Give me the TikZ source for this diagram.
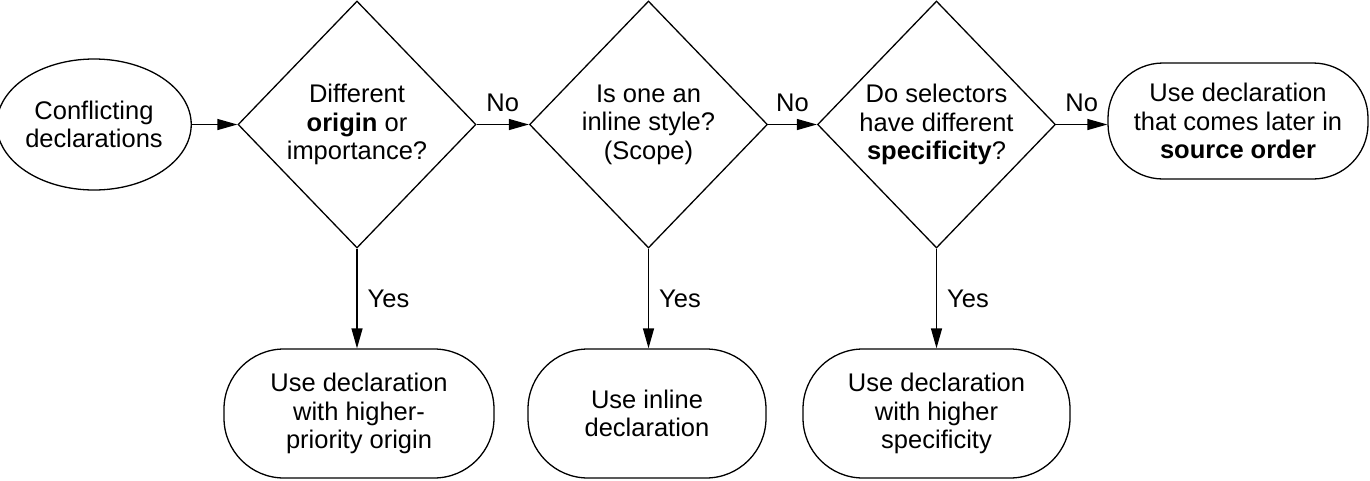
\documentclass[tikz,border=0pt]{standalone}
\usepackage{fontspec}
\setmainfont{Liberation Sans}
\usetikzlibrary{shapes.geometric,arrows.meta}
\begin{document}
\begin{tikzpicture}[x=1pt,y=-1pt,
  every node/.style={font=\fontsize{25.5}{28.5}\selectfont},
  base/.style={draw, line width=1.3pt, align=center, inner sep=0pt},
  startnode/.style={base, ellipse, minimum width=186pt, minimum height=131pt},
  decision/.style={base, diamond, aspect=1, minimum width=238pt, minimum height=247pt},
  terminal/.style={base, rectangle, rounded corners=60pt, minimum height=129pt},
  conn/.style={line width=1.3pt, -{Triangle[length=20pt,width=11pt]}},
  lbl/.style={inner sep=0pt}
]
\useasboundingbox (0,0) rectangle (1370,480);

\node[startnode] (start) at (94,124.5) {Conflicting\\declarations};
\node[decision] (d1) at (357,124.5) {Different\\\textbf{origin} or\\importance?};
\node[decision] (d2) at (648.5,124.5) {Is one an\\inline style?\\(Scope)};
\node[decision] (d3) at (936.5,124.5) {Do selectors\\have different\\\textbf{specificity}?};
\node[terminal, minimum width=260pt, minimum height=116pt, rounded corners=55pt] (t4) at (1238,121) {Use declaration\\that comes later in\\\textbf{source order}};

\node[terminal, minimum width=270pt] (t1) at (359,413.5) {Use declaration\\with higher-\\priority origin};
\node[terminal, minimum width=238pt] (t2) at (647,413.5) {Use inline\\declaration};
\node[terminal, minimum width=267pt] (t3) at (936.5,413.5) {Use declaration\\with higher\\specificity};

\draw[conn] (start.east) -- (d1.west);
\draw[conn] (d1.east) -- (d2.west) node[lbl, midway, above=12pt] {No};
\draw[conn] (d2.east) -- (d3.west) node[lbl, midway, above=12pt] {No};
\draw[conn] (d3.east) -- (d3.east -| t4.west) node[lbl, midway, above=12pt] {No};

\draw[conn] (d1.south) -- (d1.south |- t1.north) node[lbl, midway, right=10pt] {Yes};
\draw[conn] (d2.south) -- (d2.south |- t2.north) node[lbl, midway, right=10pt] {Yes};
\draw[conn] (d3.south) -- (d3.south |- t3.north) node[lbl, midway, right=10pt] {Yes};
\end{tikzpicture}
\end{document}
